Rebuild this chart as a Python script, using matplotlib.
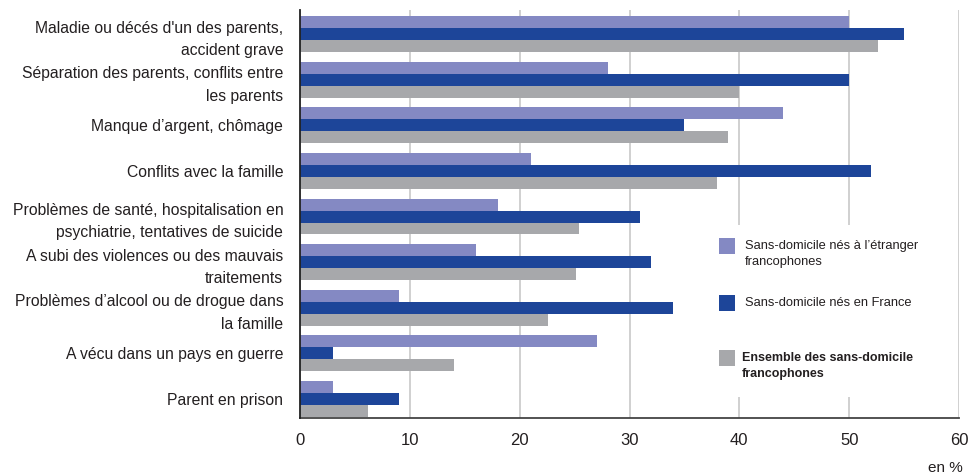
import matplotlib
matplotlib.use("Agg")
import matplotlib.pyplot as plt
from matplotlib.patches import Rectangle
import numpy as np

plt.rcParams['font.family'] = ['Liberation Sans', 'DejaVu Sans']

categories = [
    "Maladie ou décés d'un des parents,\naccident grave",
    "Séparation des parents, conflits entre\nles parents",
    "Manque d’argent, chômage",
    "Conflits avec la famille",
    "Problèmes de santé, hospitalisation en\npsychiatrie, tentatives de suicide",
    "A subi des violences ou des mauvais\ntraitements",
    "Problèmes d’alcool ou de drogue dans\nla famille",
    "A vécu dans un pays en guerre",
    "Parent en prison",
]
etranger = [50, 28, 44, 21, 18, 16, 9, 27, 3]
france = [55, 50, 35, 52, 31, 32, 34, 3, 9]
ensemble = [52.6, 40, 39, 38, 25.4, 25.1, 22.6, 14, 6.2]

series_labels = [
    "Sans-domicile nés à l’étranger\nfrancophones",
    "Sans-domicile nés en France",
    "Ensemble des sans-domicile\nfrancophones",
]
colors = ["#8489c3", "#1d4599", "#a7a8ab"]
xticks = [0, 10, 20, 30, 40, 50, 60]

W, H = 971, 476
fig = plt.figure(figsize=(W / 100, H / 100), dpi=100)
ax = fig.add_axes([300 / W, 1 - 418 / H, (959 - 300) / W, (418 - 10) / H])

y = np.arange(len(categories))
h = 0.263
txt = "#231f20"
for vals, off, c in zip([etranger, france, ensemble], [-h, 0, h], colors):
    ax.barh(y + off, vals, height=h, color=c, zorder=2)

ax.set_ylim(8.42, -0.53)
ax.set_xlim(0, 60)
ax.set_xticks(xticks)
ax.set_xticklabels([str(t) for t in xticks], fontsize=12, color=txt)
ax.set_yticks(y)
ax.set_yticklabels(categories, fontsize=11.3, color=txt, linespacing=1.62,
                   multialignment='right')
ax.tick_params(axis='both', length=0)
ax.tick_params(axis='y', pad=12)
ax.tick_params(axis='x', pad=11)
ax.set_axisbelow(True)
ax.grid(axis='x', color='#c8c8c8', linewidth=1.2, zorder=0)
for s in ['top', 'right']:
    ax.spines[s].set_visible(False)
ax.spines['left'].set_color('#222222')
ax.spines['bottom'].set_color('#444444')
ax.spines['left'].set_linewidth(1.3)
ax.spines['bottom'].set_linewidth(1.3)
ax.spines['left'].set_zorder(3)

def fx(px):
    return px / W

def fy(py):
    return 1 - py / H

# legend (white background hiding gridlines)
fig.patches.append(Rectangle((fx(705), fy(397)), fx(940) - fx(705), fy(225) - fy(397),
                             transform=fig.transFigure, facecolor='white',
                             edgecolor='none', zorder=5))
leg_tops = [238, 295, 350]
weights = ['normal', 'normal', 'bold']
for top, lab, c, wgt in zip(leg_tops, series_labels, colors, weights):
    fig.patches.append(Rectangle((fx(719), fy(top + 16)), fx(16), 16 / H,
                                 transform=fig.transFigure, facecolor=c,
                                 edgecolor='none', zorder=6))
    fig.text(fx(745 if wgt == 'normal' else 742), fy(top + 2), lab,
             fontsize=9.3 if wgt == 'normal' else 9.0,
             color=txt, va='top', ha='left', weight=wgt, linespacing=1.5, zorder=7)

fig.text(fx(963), fy(476 - 1), "en %", fontsize=11, color=txt, ha='right', va='bottom')

fig.savefig("out.png", dpi=100)
